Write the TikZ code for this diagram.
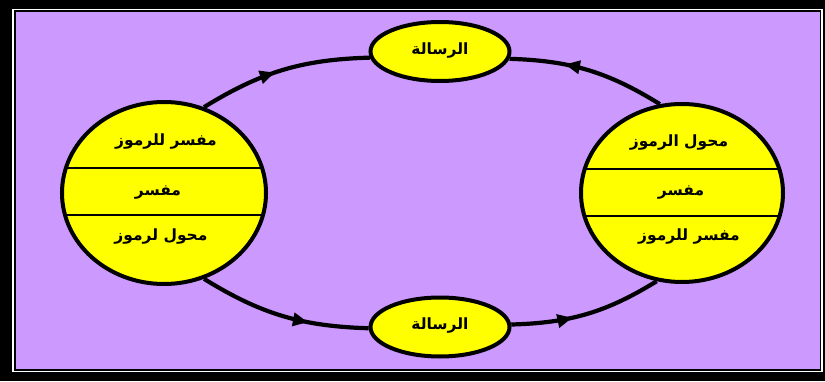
\documentclass[tikz,border=0pt]{standalone}
\usepackage{fontspec}
\newfontfamily\arabicfont[Script=Arabic]{DejaVu Sans}
\TeXXeTstate=1
\usetikzlibrary{shapes.geometric,arrows.meta,decorations.markings}
\definecolor{bgpurple}{RGB}{204,153,255}
\definecolor{ellyellow}{RGB}{255,255,0}
\tikzset{
  ell/.style={ellipse, draw=black, fill=ellyellow, line width=4pt, inner sep=0pt},
  sepline/.style={draw=black, line width=1.8pt},
  lbl/.style={font=\arabicfont\bfseries\fontsize{15.5}{18}\selectfont, text=black, inner sep=0pt},
  conn/.style={line width=4.2pt, draw=black},
  arrowat/.style={postaction={decorate}, decoration={markings, mark=at position #1 with {\arrow{Triangle[length=15pt,width=13pt]}}}}
}
\begin{document}
\begin{tikzpicture}[x=1pt,y=1pt]
\useasboundingbox (0,0) rectangle (825,381);
\fill[black] (0,0) rectangle (825,381);
\draw[white, line width=1.6pt] (13,9.5) rectangle (822,371.5);
\fill[bgpurple] (16,12) rectangle (820,369);

% ellipses
\node[ell, minimum width=139, minimum height=59] (T) at (440,329.5) {};
\node[ell, minimum width=139, minimum height=59] (B) at (440,54) {};
\node[ell, minimum width=204, minimum height=182,
  path picture={
    \draw[sepline] ([yshift=25pt]path picture bounding box.west) -- ([yshift=25pt]path picture bounding box.east);
    \draw[sepline] ([yshift=-22pt]path picture bounding box.west) -- ([yshift=-22pt]path picture bounding box.east);
  }] (L) at (164,188) {};
\node[ell, minimum width=202, minimum height=178,
  path picture={
    \draw[sepline] ([yshift=24pt]path picture bounding box.west) -- ([yshift=24pt]path picture bounding box.east);
    \draw[sepline] ([yshift=-23pt]path picture bounding box.west) -- ([yshift=-23pt]path picture bounding box.east);
  }] (R) at (682,188) {};

% labels
\node[lbl] (tlabel) at (440,330) {\beginR الرسالة\endR};
\node[lbl] (blabel) at (440,55) {\beginR الرسالة\endR};
\node[lbl] (l1) at (166,239) {\beginR مفسر للرموز\endR};
\node[lbl] (l2) at (158,188) {\beginR مفسر\endR};
\node[lbl] (l3) at (161,144) {\beginR محول لرموز\endR};
\node[lbl] (r1) at (679,238) {\beginR محول الرموز\endR};
\node[lbl] (r2) at (681,188) {\beginR مفسر\endR};
\node[lbl] (r3) at (689,144) {\beginR مفسر للرموز\endR};

% connectors
\draw[conn, arrowat=0.45] (L.65) to[bend left=15] (T.185);
\draw[conn, arrowat=0.65] (R.104) to[bend right=15] (T.354);
\draw[conn, arrowat=0.65] (L.295) to[bend right=15] (B.181);
\draw[conn, arrowat=0.40] (B.2) to[bend right=15] (R.254);
\end{tikzpicture}
\end{document}
